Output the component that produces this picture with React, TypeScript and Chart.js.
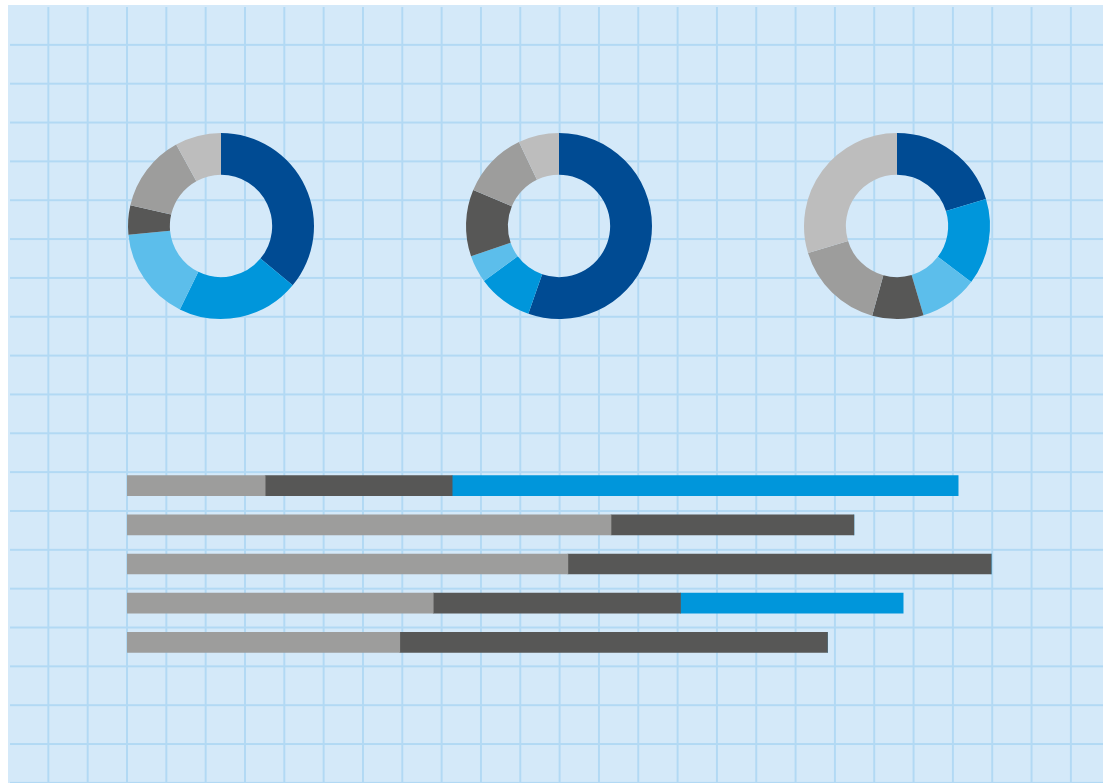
import React, { useEffect, useRef } from "react";
import { Chart, registerables } from "chart.js";

Chart.register(...registerables);

// Colours
const DARK_BLUE = "#004B93";
const BLUE = "#0096DB";
const LIGHT_BLUE = "#5CBEEB";
const DARK_GRAY = "#575756";
const GRAY = "#9D9D9C";
const LIGHT_GRAY = "#BDBDBD";

// Donut data (share in %, clockwise from top)
const donutLabels = ["A", "B", "C", "D", "E", "F"];
const donutColors = [DARK_BLUE, BLUE, LIGHT_BLUE, DARK_GRAY, GRAY, LIGHT_GRAY];
const donut1Values = [36, 21.3, 16.2, 5.1, 13.4, 8];
const donut2Values = [55.4, 9.6, 4.8, 11.6, 11.6, 7.1];
const donut3Values = [20.3, 15, 10.1, 8.9, 16, 29.7];

// Stacked bar data
const barCategories = ["1", "2", "3", "4", "5"];
const barGray = [15.7, 55.0, 50.1, 34.8, 31.0];
const barDark = [21.25, 27.6, 48.1, 28.1, 48.6];
const barBlue = [57.5, 0, 0, 25.3, 0];

function Donut({ values, left, top }: { values: number[]; left: number; top: number }) {
  const ref = useRef<HTMLCanvasElement | null>(null);
  useEffect(() => {
    if (!ref.current) return;
    const chart = new Chart(ref.current, {
      type: "doughnut",
      data: {
        labels: donutLabels,
        datasets: [
          {
            data: values,
            backgroundColor: donutColors,
            borderWidth: 0,
          },
        ],
      },
      options: {
        responsive: false,
        animation: false,
        radius: 93,
        cutout: "55%",
        plugins: { legend: { display: false }, tooltip: { enabled: false } },
        events: [],
      } as any,
    });
    return () => chart.destroy();
  }, [values]);
  return (
    <canvas
      ref={ref}
      width={200}
      height={200}
      style={{ position: "absolute", left, top, width: 200, height: 200 }}
    />
  );
}

function Bars() {
  const ref = useRef<HTMLCanvasElement | null>(null);
  useEffect(() => {
    if (!ref.current) return;
    const chart = new Chart(ref.current, {
      type: "bar",
      data: {
        labels: barCategories,
        datasets: [
          { data: barGray, backgroundColor: GRAY, borderWidth: 0, barThickness: 20 },
          { data: barDark, backgroundColor: DARK_GRAY, borderWidth: 0, barThickness: 20 },
          { data: barBlue, backgroundColor: BLUE, borderWidth: 0, barThickness: 20 },
        ],
      },
      options: {
        indexAxis: "y",
        responsive: false,
        animation: false,
        events: [],
        layout: { padding: 0 },
        scales: {
          x: { stacked: true, min: 0, max: 100, display: false },
          y: { stacked: true, display: false },
        },
        plugins: { legend: { display: false }, tooltip: { enabled: false } },
      } as any,
    });
    return () => chart.destroy();
  }, []);
  return (
    <canvas
      ref={ref}
      width={880}
      height={196}
      style={{ position: "absolute", left: 127, top: 465.5, width: 880, height: 196 }}
    />
  );
}

export default function App() {
  return (
    <div style={{ position: "absolute", left: 0, top: 0, width: 1103, height: 783, background: "#ffffff", overflow: "hidden" }}>
      <div
        style={{
          position: "absolute",
          left: 8,
          top: 5,
          width: 1095,
          height: 778,
          background: "#D4E9F9",
          overflow: "hidden",
        }}
      >
        <div
          style={{
            position: "absolute",
            left: 2,
            top: 2.4,
            right: 0,
            bottom: 0,
            backgroundImage:
              "linear-gradient(to right, transparent 37.33px, #B2D9F4 37.33px), linear-gradient(to bottom, transparent 36.85px, #B2D9F4 36.85px)",
            backgroundSize: "39.33px 38.85px",
          }}
        />
      </div>
      <Donut values={donut1Values} left={120.7} top={126} />
      <Donut values={donut2Values} left={458.7} top={126} />
      <Donut values={donut3Values} left={797} top={126} />
      <Bars />
    </div>
  );
}
